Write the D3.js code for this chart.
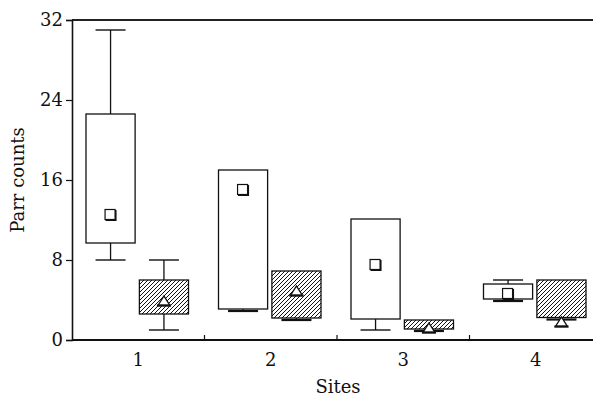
<!DOCTYPE html>
<html>
<head>
<meta charset="utf-8">
<script src="https://cdn.jsdelivr.net/npm/d3@7"></script>
<style>
  body { margin: 0; background: #fff; }
  text { font-family: "DejaVu Serif", serif; fill: #111; }
</style>
</head>
<body>
<script>
var width = 593,
    height = 397,
    margin = {left: 72, top: 20, bottom: 57, right: -9};

// data (counts)
var sites = ['1', '2', '3', '4'];
var groups = ['open', 'hatched'];
var yTicks = [0, 8, 16, 24, 32];

// one entry per site, per group
var openMin  = [8.0, 2.9, 1.0, 3.9],
    openQ1   = [9.7, 3.1, 2.1, 4.1],
    openQ3   = [22.6, 17.0, 12.1, 5.6],
    openMax  = [31.0, 17.0, 12.1, 6.0],
    openMean = [12.5, 15.0, 7.5, 4.6];

var hatchMin  = [1.0, 2.0, 0.9, 2.05],
    hatchQ1   = [2.6, 2.2, 1.1, 2.25],
    hatchQ3   = [6.0, 6.9, 2.0, 6.0],
    hatchMax  = [8.0, 6.9, 2.0, 6.0],
    hatchMean = [3.9, 4.9, 1.2, 1.8];

var data = [];
sites.forEach(function(s, i) {
    data.push({site: s, group: 'open', min: openMin[i], q1: openQ1[i], q3: openQ3[i], max: openMax[i], mean: openMean[i]});
    data.push({site: s, group: 'hatched', min: hatchMin[i], q1: hatchQ1[i], q3: hatchQ3[i], max: hatchMax[i], mean: hatchMean[i]});
});

var x = d3.scaleBand().domain(sites).range([margin.left, width - margin.right]).padding(0),
    inner = d3.scaleBand().domain(groups).range([14, 116.5]).paddingInner(0.08),
    y = d3.scaleLinear().domain([0, 32]).range([height - margin.bottom, margin.top]);

var svg = d3.select('body').append('svg')
    .attr('width', width)
    .attr('height', height);

var defs = svg.append('defs');
defs.append('pattern')
    .attr('id', 'hatch')
    .attr('patternUnits', 'userSpaceOnUse')
    .attr('width', 4)
    .attr('height', 4)
    .append('path')
    .attr('d', 'M-1,1 L1,-1 M0,4 L4,0 M3,5 L5,3')
    .attr('stroke', '#111')
    .attr('stroke-width', 1);

// frame: top line
svg.append('line')
    .attr('x1', margin.left).attr('x2', width)
    .attr('y1', y(32)).attr('y2', y(32))
    .attr('stroke', '#222').attr('stroke-width', 2);

// y axis
var yAxis = svg.append('g')
    .attr('transform', 'translate(' + margin.left + ',0)')
    .call(d3.axisLeft(y).tickValues(yTicks).tickSize(6).tickPadding(3));
yAxis.select('.domain').attr('stroke', '#111').attr('stroke-width', 1.6);
yAxis.selectAll('.tick line').attr('stroke', '#111').attr('stroke-width', 1.2);
yAxis.selectAll('.tick text').style('font-size', '18px').style('font-family', '"DejaVu Serif", serif');

// x axis: boundary ticks pointing up, labels at centres
var xAxis = svg.append('g')
    .attr('transform', 'translate(0,' + y(0) + ')');
xAxis.append('line')
    .attr('x1', margin.left).attr('x2', width)
    .attr('stroke', '#111').attr('stroke-width', 1.8);
xAxis.selectAll('.btick')
    .data(sites.slice(1))
    .enter().append('line')
    .attr('class', 'btick')
    .attr('x1', function(d) { return x(d); })
    .attr('x2', function(d) { return x(d); })
    .attr('y1', 0).attr('y2', -5)
    .attr('stroke', '#111').attr('stroke-width', 1.2);
xAxis.selectAll('.xlabel')
    .data(sites)
    .enter().append('text')
    .attr('class', 'xlabel')
    .attr('x', function(d) { return x(d) + x.bandwidth() / 2; })
    .attr('y', 26)
    .attr('text-anchor', 'middle')
    .style('font-size', '18px')
    .text(function(d) { return d; });

svg.append('text')
    .attr('x', 338)
    .attr('y', 393)
    .attr('text-anchor', 'middle')
    .style('font-size', '18px')
    .text('Sites');

svg.append('text')
    .attr('transform', 'translate(24,180) rotate(-90)')
    .attr('text-anchor', 'middle')
    .style('font-size', '18px')
    .text('Parr counts');

// boxes
var cx = function(d) { return x(d.site) + inner(d.group) + inner.bandwidth() / 2; };
var capW = 15;

var box = svg.append('g').selectAll('g')
    .data(data)
    .enter().append('g');

// whiskers, drawn outside the box only
box.append('line')
    .attr('x1', cx).attr('x2', cx)
    .attr('y1', function(d) { return y(d.max); })
    .attr('y2', function(d) { return y(d.q3); })
    .attr('stroke', '#111').attr('stroke-width', 1.3);
box.append('line')
    .attr('x1', cx).attr('x2', cx)
    .attr('y1', function(d) { return y(d.q1); })
    .attr('y2', function(d) { return y(d.min); })
    .attr('stroke', '#111').attr('stroke-width', 1.3);

box.append('rect')
    .attr('x', function(d) { return x(d.site) + inner(d.group); })
    .attr('width', inner.bandwidth())
    .attr('y', function(d) { return y(d.q3); })
    .attr('height', function(d) { return y(d.q1) - y(d.q3); })
    .attr('fill', '#fff');

box.append('rect')
    .attr('x', function(d) { return x(d.site) + inner(d.group); })
    .attr('width', inner.bandwidth())
    .attr('y', function(d) { return y(d.q3); })
    .attr('height', function(d) { return y(d.q1) - y(d.q3); })
    .attr('fill', function(d) { return d.group === 'open' ? 'none' : 'url(#hatch)'; })
    .attr('stroke', '#111').attr('stroke-width', 1.3);

box.filter(function(d) { return d.min < d.q1; }).append('line')
    .attr('x1', function(d) { return cx(d) - capW; })
    .attr('x2', function(d) { return cx(d) + capW; })
    .attr('y1', function(d) { return y(d.min); })
    .attr('y2', function(d) { return y(d.min); })
    .attr('stroke', '#111')
    .attr('stroke-width', function(d) { return d.q1 - d.min < 0.5 ? 2.2 : 1.4; });
box.filter(function(d) { return d.max > d.q3; }).append('line')
    .attr('x1', function(d) { return cx(d) - capW; })
    .attr('x2', function(d) { return cx(d) + capW; })
    .attr('y1', function(d) { return y(d.max); })
    .attr('y2', function(d) { return y(d.max); })
    .attr('stroke', '#111').attr('stroke-width', 1.4);

// mean markers
var openBox = box.filter(function(d) { return d.group === 'open'; });
openBox.append('rect')
    .attr('x', function(d) { return cx(d) - 5; })
    .attr('y', function(d) { return y(d.mean) - 5; })
    .attr('width', 11).attr('height', 11)
    .attr('fill', '#111');
openBox.append('rect')
    .attr('x', function(d) { return cx(d) - 5.5; })
    .attr('y', function(d) { return y(d.mean) - 5.5; })
    .attr('width', 10).attr('height', 10)
    .attr('fill', '#fff')
    .attr('stroke', '#111').attr('stroke-width', 1.2);

var hatchBox = box.filter(function(d) { return d.group === 'hatched'; });
hatchBox.append('path')
    .attr('d', function(d) {
        var px = cx(d), py = y(d.mean);
        return 'M' + (px - 6) + ',' + (py + 4.5) + 'L' + px + ',' + (py - 5) + 'L' + (px + 6) + ',' + (py + 4.5) + 'Z';
    })
    .attr('fill', '#fff')
    .attr('stroke', '#111').attr('stroke-width', 1.4);
hatchBox.append('line')
    .attr('x1', function(d) { return cx(d) - 7; })
    .attr('x2', function(d) { return cx(d) + 7; })
    .attr('y1', function(d) { return y(d.mean) + 4.5; })
    .attr('y2', function(d) { return y(d.mean) + 4.5; })
    .attr('stroke', '#111').attr('stroke-width', 2.2);
</script>
</body>
</html>
